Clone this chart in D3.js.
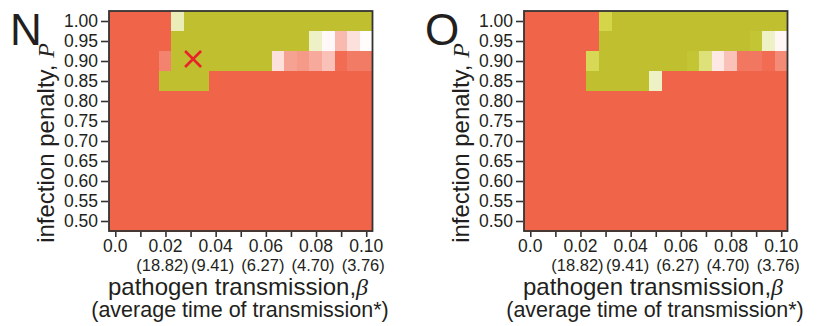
<!DOCTYPE html>
<html>
<head>
<meta charset="utf-8">
<script src="https://cdn.jsdelivr.net/npm/d3@7"></script>
<style>
  body { margin: 0; background: #fff; }
  svg text { font-family: "Liberation Sans", Arial, sans-serif; fill: #231f20; }
  .math { font-family: "Liberation Serif", "Times New Roman", serif; font-style: italic; }
</style>
</head>
<body>
<svg id="fig_svg" width="836" height="326"></svg>
<script>
// beta = pathogen transmission (columns), P = infection penalty (rows)
const g_beta = [0.000, 0.005, 0.010, 0.015, 0.020, 0.025, 0.030, 0.035, 0.040, 0.045, 0.050,
                0.055, 0.060, 0.065, 0.070, 0.075, 0.080, 0.085, 0.090, 0.095, 0.100];
const g_penalty = [1.00, 0.95, 0.90, 0.85, 0.80, 0.75, 0.70, 0.65, 0.60, 0.55, 0.50];
const g_x_ticks = [0.00, 0.01, 0.02, 0.03, 0.04, 0.05, 0.06, 0.07, 0.08, 0.09, 0.10];
const g_x_labels = [[0.00, "0.0"], [0.02, "0.02"], [0.04, "0.04"], [0.06, "0.06"], [0.08, "0.08"], [0.10, "0.10"]];
const g_time_labels = [[0.02, "(18.82)"], [0.04, "(9.41)"], [0.06, "(6.27)"], [0.08, "(4.70)"], [0.10, "(3.76)"]];

// cell value: -1 = red outcome, 0 = even, +1 = olive outcome
const g_val_N = [
  [-1, -1, -1, -1, -1, 0.35, 1, 1, 1, 1, 1, 1, 1, 1, 1, 1, 1, 1, 1, 1, 1],
  [-1, -1, -1, -1, -1, 1, 1, 1, 1, 1, 1, 1, 1, 1, 1, 1, 0.3, -0.04, -0.45, -0.2, -0.02],
  [-1, -1, -1, -1, -0.8, 1, 1, 1, 1, 1, 1, 1, 1, -0.2, -0.6, -0.65, -0.55, -0.4, -0.95, -0.85, -0.85],
  [-1, -1, -1, -1, 1, 1, 1, 1, -1, -1, -1, -1, -1, -1, -1, -1, -1, -1, -1, -1, -1],
  [-1, -1, -1, -1, -1, -1, -1, -1, -1, -1, -1, -1, -1, -1, -1, -1, -1, -1, -1, -1, -1],
  [-1, -1, -1, -1, -1, -1, -1, -1, -1, -1, -1, -1, -1, -1, -1, -1, -1, -1, -1, -1, -1],
  [-1, -1, -1, -1, -1, -1, -1, -1, -1, -1, -1, -1, -1, -1, -1, -1, -1, -1, -1, -1, -1],
  [-1, -1, -1, -1, -1, -1, -1, -1, -1, -1, -1, -1, -1, -1, -1, -1, -1, -1, -1, -1, -1],
  [-1, -1, -1, -1, -1, -1, -1, -1, -1, -1, -1, -1, -1, -1, -1, -1, -1, -1, -1, -1, -1],
  [-1, -1, -1, -1, -1, -1, -1, -1, -1, -1, -1, -1, -1, -1, -1, -1, -1, -1, -1, -1, -1],
  [-1, -1, -1, -1, -1, -1, -1, -1, -1, -1, -1, -1, -1, -1, -1, -1, -1, -1, -1, -1, -1]
];
const g_val_O = [
  [-1, -1, -1, -1, -1, -1, 0.8, 1, 1, 1, 1, 1, 1, 1, 1, 1, 1, 1, 1, 1, 1],
  [-1, -1, -1, -1, -1, -1, 1, 1, 1, 1, 1, 1, 1, 1, 1, 1, 1, 1, 0.95, 0.3, -0.05],
  [-1, -1, -1, -1, -1, 0.75, 1, 1, 1, 1, 1, 1, 1, 0.95, 0.6, -0.15, -0.4, -0.88, -0.88, -0.95, -0.75],
  [-1, -1, -1, -1, -1, 1, 1, 1, 1, 1, 0.3, -1, -1, -1, -1, -1, -1, -1, -1, -1, -1],
  [-1, -1, -1, -1, -1, -1, -1, -1, -1, -1, -1, -1, -1, -1, -1, -1, -1, -1, -1, -1, -1],
  [-1, -1, -1, -1, -1, -1, -1, -1, -1, -1, -1, -1, -1, -1, -1, -1, -1, -1, -1, -1, -1],
  [-1, -1, -1, -1, -1, -1, -1, -1, -1, -1, -1, -1, -1, -1, -1, -1, -1, -1, -1, -1, -1],
  [-1, -1, -1, -1, -1, -1, -1, -1, -1, -1, -1, -1, -1, -1, -1, -1, -1, -1, -1, -1, -1],
  [-1, -1, -1, -1, -1, -1, -1, -1, -1, -1, -1, -1, -1, -1, -1, -1, -1, -1, -1, -1, -1],
  [-1, -1, -1, -1, -1, -1, -1, -1, -1, -1, -1, -1, -1, -1, -1, -1, -1, -1, -1, -1, -1],
  [-1, -1, -1, -1, -1, -1, -1, -1, -1, -1, -1, -1, -1, -1, -1, -1, -1, -1, -1, -1, -1]
];
const g_marker_N = [{ beta: 0.031, P: 0.905 }]; // red cross, panel N only

const g_plot = { left: 109, right: 372.5, top: 11, bottom: 231 }; // plot box of first panel
const g_panel_dx = 415; // shift of second panel
const g_color = d3.scaleLinear()
    .domain([-1, 0, 0.3, 0.8, 1])
    .range(["#f0644a", "#ffffff", "#eef0c6", "#d4d548", "#bfbf2f"]);

let g_x = d3.scaleLinear().domain([-0.0025, 0.1025]).range([g_plot.left, g_plot.right]);
let g_y = d3.scaleLinear().domain([0.475, 1.025]).range([g_plot.bottom, g_plot.top]);

function draw_panel(svg, dx, letter, vals, markers) {
    var grp = svg.append("g").attr("transform", "translate(" + dx + ",0)");

    // heat cells (slight overlap so no seams show)
    var cells = [];
    vals.forEach((row, i) => row.forEach((v, j) => cells.push({ b: g_beta[j], p: g_penalty[i], v: v })));
    grp.selectAll(".cell").data(cells).join("rect").classed("cell", true)
        .attr("x", d => g_x(d.b - 0.0025) - 0.3).attr("y", d => g_y(d.p + 0.025) - 0.3)
        .attr("width", d => g_x(d.b + 0.0025) - g_x(d.b - 0.0025) + 0.9)
        .attr("height", d => g_y(d.p - 0.025) - g_y(d.p + 0.025) + 0.9)
        .attr("shape-rendering", "crispEdges")
        .attr("fill", d => g_color(d.v));

    // marker
    grp.selectAll(".mark").data(markers).join("path").classed("mark", true)
        .attr("transform", d => "translate(" + g_x(d.beta) + "," + g_y(d.P) + ")")
        .attr("d", "M-8,-8L8,8M-8,8L8,-8")
        .attr("style", "stroke:#e8242b; stroke-width:2.6; fill:none");

    // frame
    grp.append("rect")
        .attr("x", g_plot.left).attr("y", g_plot.top)
        .attr("width", g_plot.right - g_plot.left).attr("height", g_plot.bottom - g_plot.top)
        .attr("style", "fill:none; stroke:#333; stroke-width:1.8");

    // y axis
    var ya = grp.append("g").attr("transform", "translate(" + (g_plot.left - 1) + ",0)")
        .call(d3.axisLeft(g_y).tickValues(g_penalty).tickFormat(d3.format(".2f")).tickSize(7).tickPadding(3));
    ya.select(".domain").remove();
    ya.selectAll("line").attr("stroke", "#333").attr("stroke-width", 1.6);
    ya.selectAll("text").attr("font-size", 17.5).attr("font-family", null).attr("fill", "#231f20");

    // x axis
    var xa = grp.append("g").attr("transform", "translate(0," + (g_plot.bottom + 1) + ")")
        .call(d3.axisBottom(g_x).tickValues(g_x_ticks).tickFormat("").tickSize(5));
    xa.select(".domain").remove();
    xa.selectAll("line").attr("stroke", "#333").attr("stroke-width", 1.6);

    grp.selectAll(".xlab").data(g_x_labels).join("text").classed("xlab", true)
        .attr("x", d => g_x(d[0])).attr("y", 252)
        .attr("text-anchor", "middle").attr("font-size", 17.5).text(d => d[1]);
    grp.selectAll(".tlab").data(g_time_labels).join("text").classed("tlab", true)
        .attr("x", d => g_x(d[0]) - 3).attr("y", 271)
        .attr("text-anchor", "middle").attr("font-size", 16.5).text(d => d[1]);

    // axis titles
    var xt = grp.append("text").attr("x", 238).attr("y", 295)
        .attr("text-anchor", "middle").attr("font-size", 24);
    xt.append("tspan").text("pathogen transmission,");
    xt.append("tspan").classed("math", true).text("\u03b2");
    grp.append("text").attr("x", 240).attr("y", 317)
        .attr("text-anchor", "middle").attr("font-size", 21.5)
        .text("(average time of transmission*)");

    var yt = grp.append("text").attr("transform", "translate(54,143) rotate(-90)")
        .attr("text-anchor", "middle").attr("font-size", 24);
    yt.append("tspan").text("infection penalty, ");
    yt.append("tspan").classed("math", true).text("P");

    // panel letter
    grp.append("text").attr("x", 10).attr("y", 45).attr("font-size", 44).text(letter);
}

var svg = d3.select("#fig_svg");
draw_panel(svg, 0, "N", g_val_N, g_marker_N);
draw_panel(svg, g_panel_dx, "O", g_val_O, []);
</script>
</body>
</html>
